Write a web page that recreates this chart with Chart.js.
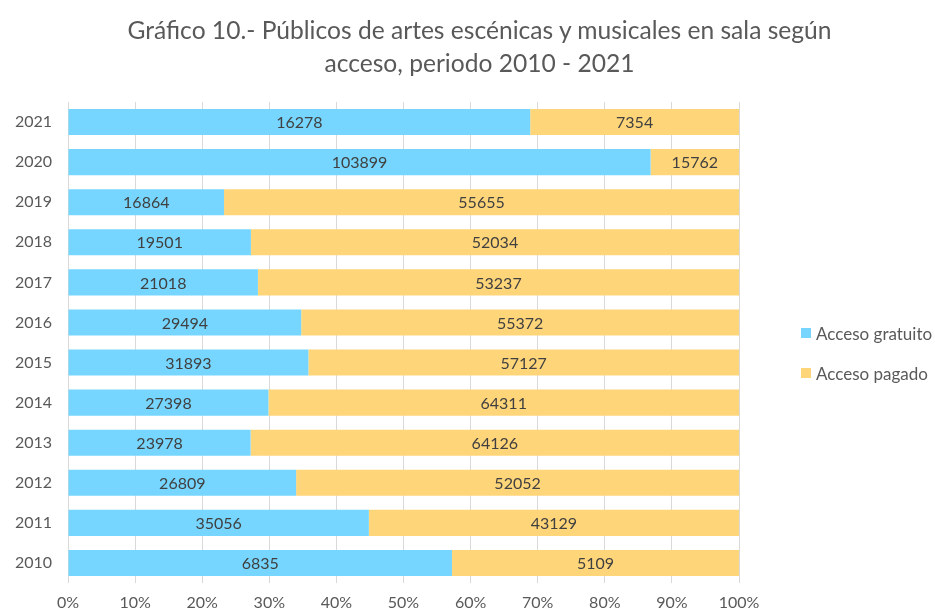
<!DOCTYPE html>
<html>
<head>
<meta charset="utf-8">
<script src="https://cdn.jsdelivr.net/npm/chart.js@4.4.0/dist/chart.umd.min.js"></script>
<style>
  html, body { margin:0; padding:0; background:#fff; }
  #wrap { position:relative; width:935px; height:616px; }
  #chart { position:absolute; left:0; top:0; }
  #title { position:absolute; left:12px; top:13px; width:935px; text-align:center; font-family:Lato, sans-serif; font-size:24.6px; line-height:33px; color:#595959; }
  #legend { position:absolute; left:801px; top:323px; font-family:Lato, sans-serif; font-size:17px; color:#595959; }
  .legend-item { display:flex; align-items:center; height:20px; margin-bottom:20px; white-space:nowrap; }
  .swatch { width:10px; height:10px; margin-right:5px; display:inline-block; }
</style>
</head>
<body>
<div id="wrap">
  <canvas id="chart" width="935" height="616"></canvas>
  <div id="title">Gráfico 10.- Públicos de artes escénicas y musicales en sala según<br>acceso, periodo 2010 - 2021</div>
  <div id="legend"></div>
</div>
<script>
// years from top to bottom as in the picture
const years = ['2021','2020','2019','2018','2017','2016','2015','2014','2013','2012','2011','2010'];
const gratuito = [16278, 103899, 16864, 19501, 21018, 29494, 31893, 27398, 23978, 26809, 35056, 6835];
const pagado   = [7354, 15762, 55655, 52034, 53237, 55372, 57127, 64311, 64126, 52052, 43129, 5109];
const seriesLabels = ['Acceso gratuito', 'Acceso pagado'];
const xTicks = ['0%','10%','20%','30%','40%','50%','60%','70%','80%','90%','100%'];

const BLUE = '#76D6FF';
const YELLOW = '#FFD579';
const FONT = 'Lato, sans-serif';

// share of each row, in percent
function share(a, b){ return a.map((v, i) => v / (v + b[i]) * 100); }
const raw = [gratuito, pagado];

// draws the raw count in the middle of each segment
const valueLabels = {
  id:'valueLabels',
  afterDatasetsDraw(chart){
    const ctx = chart.ctx;
    ctx.save();
    ctx.font = '16px ' + FONT;
    ctx.fillStyle = '#404040';
    ctx.textAlign = 'center';
    ctx.textBaseline = 'middle';
    chart.data.datasets.forEach((ds, di) => {
      chart.getDatasetMeta(di).data.forEach((bar, i) => {
        const cx = (bar.x + bar.base) / 2;
        ctx.fillText(String(raw[di][i]), cx, bar.y + 1);
      });
    });
    ctx.restore();
  }
};

new Chart(document.getElementById('chart'), {
  type:'bar',
  data:{
    labels:years,
    datasets:[
      { label:seriesLabels[0], data:share(gratuito, pagado), backgroundColor:BLUE },
      { label:seriesLabels[1], data:share(pagado, gratuito), backgroundColor:YELLOW }
    ]
  },
  options:{
    indexAxis:'y',
    responsive:false,
    animation:false,
    layout:{ padding:{ left:0, right:196, top:102, bottom:0 } },
    datasets:{ bar:{ categoryPercentage:1, barPercentage:0.65, borderWidth:0 } },
    plugins:{
      legend:{ display:false },
      tooltip:{ enabled:false }
    },
    scales:{
      x:{
        stacked:true, min:0, max:100,
        ticks:{ stepSize:10, color:'#595959', font:{ family:FONT, size:16 }, padding:10,
          callback:(v, i) => xTicks[i] },
        grid:{ color:'#d9d9d9', drawTicks:false },
        border:{ display:false },
        afterFit:s => { s.height = 33; }
      },
      y:{
        stacked:true,
        ticks:{ color:'#595959', font:{ family:FONT, size:16 }, padding:16 },
        grid:{ display:false, drawTicks:false },
        border:{ display:false },
        afterFit:s => { s.width = 68; }
      }
    }
  },
  plugins:[valueLabels]
});

// simple html legend
const legend = document.getElementById('legend');
seriesLabels.forEach((lab, i) => {
  const item = document.createElement('div');
  item.className = 'legend-item';
  const sw = document.createElement('span');
  sw.className = 'swatch';
  sw.style.backgroundColor = [BLUE, YELLOW][i];
  const txt = document.createElement('span');
  txt.textContent = lab;
  item.appendChild(sw);
  item.appendChild(txt);
  legend.appendChild(item);
});
</script>
</body>
</html>
